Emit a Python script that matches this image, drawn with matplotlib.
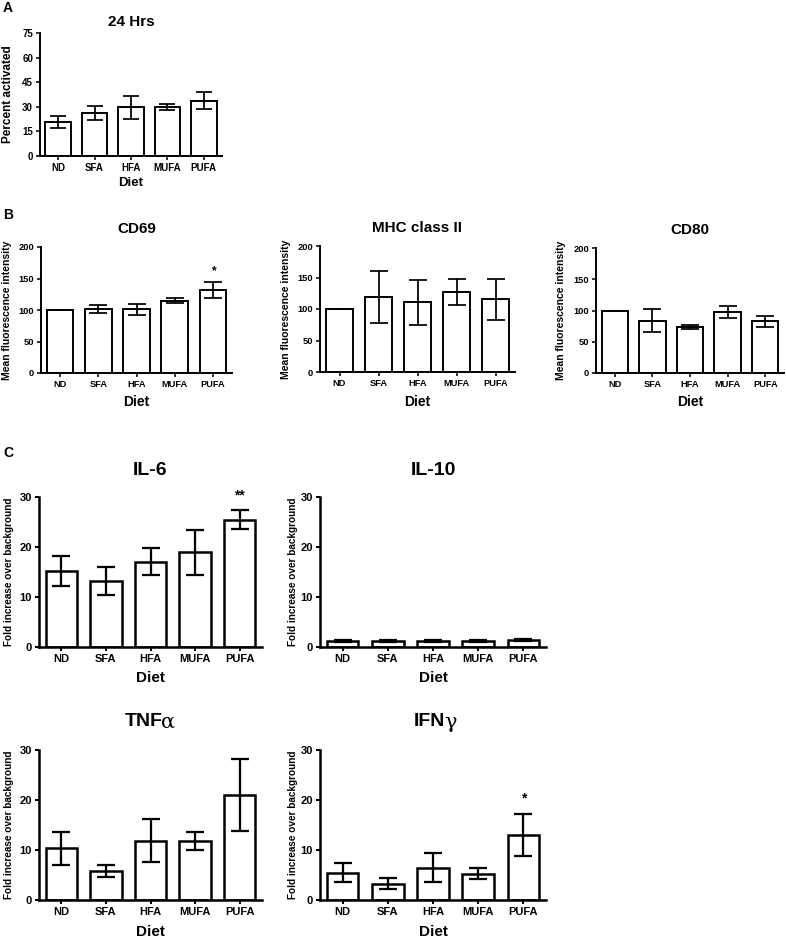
import matplotlib
matplotlib.use("Agg")
import matplotlib.pyplot as plt
import numpy as np

plt.rcParams["font.family"] = ["Liberation Sans", "DejaVu Sans"]
plt.rcParams["font.weight"] = "bold"

diets = ["ND", "SFA", "HFA", "MUFA", "PUFA"]

# Panel A: percent activated at 24 h (mean, error)
act_mean = [20.5, 26.4, 29.6, 30.0, 33.8]
act_err = [3.7, 4.3, 7.0, 1.8, 5.4]

# Panel B: mean fluorescence intensity
cd69_mean = [100, 102, 101.5, 114.7, 131.5]
cd69_err = [0, 6.6, 8.7, 3.7, 12.7]
mhc_mean = [100, 119, 110.6, 127, 115.3]
mhc_err = [0, 41.8, 35.5, 20.0, 32.8]
cd80_mean = [100, 84, 73.6, 97, 83.2]
cd80_err = [0, 18.7, 2.7, 9.6, 8.8]

# Panel C: fold increase over background
il6_mean = [15.3, 13.2, 17.1, 19.0, 25.5]
il6_err = [3.0, 2.8, 2.7, 4.5, 1.9]
il10_mean = [1.3, 1.3, 1.2, 1.3, 1.4]
il10_err = [0.2, 0.2, 0.2, 0.2, 0.25]
tnf_mean = [10.35, 5.8, 11.9, 11.9, 21.0]
tnf_err = [3.3, 1.25, 4.35, 1.8, 7.25]
ifn_mean = [5.5, 3.3, 6.5, 5.3, 13.1]
ifn_err = [1.9, 1.15, 2.9, 1.05, 4.2]

W, H = 786, 940
fig = plt.figure(figsize=(W / 100, H / 100), dpi=100)


def add_ax(l, t, r, b):
    return fig.add_axes([l / W, 1 - b / H, (r - l) / W, (b - t) / H])


def bar_panel(box, means, errs, title, ylabel, ymax, yticks, ylab_x,
              diet_top, fs, star=None, star_y=None, greek=None):
    ax = add_ax(*box)
    x = np.arange(len(diets))
    lw = fs["lw"]
    ax.bar(x, means, width=0.7, color="white", edgecolor="black",
           linewidth=lw, zorder=2)
    ax.errorbar(x, means, yerr=errs, fmt="none", ecolor="black",
                elinewidth=lw * 0.9, capsize=fs["cap"], capthick=lw * 0.9,
                zorder=3)
    ax.set_xlim(-0.5, 4.5)
    ax.set_ylim(0, ymax)
    ax.set_yticks(yticks)
    ax.set_xticks(x)
    ax.set_xticklabels(diets)
    for s in ["top", "right"]:
        ax.spines[s].set_visible(False)
    for s in ["left", "bottom"]:
        ax.spines[s].set_linewidth(lw)
    ax.tick_params(axis="both", labelsize=fs["tick"], width=lw * 0.8,
                   length=3, pad=2)
    if greek:
        # bold latin part plus a plain greek letter, like the original
        cx = ((box[0] + box[2]) / 2 + 12) / W
        ty = 1 - (box[1] - 28) / H
        fig.text(cx, ty, title, fontsize=fs["title"], fontweight="bold",
                 ha="right", va="center")
        fig.text(cx - 1 / W, ty, greek, fontsize=fs["title"] + 1,
                 fontweight="normal", family="DejaVu Serif",
                 ha="left", va="center")
    else:
        ax.set_title(title, fontsize=fs["title"], fontweight="bold",
                     pad=fs["tpad"])
    ax.set_ylabel(ylabel, fontsize=fs["ylab"], fontweight="bold")
    ax.yaxis.set_label_coords(ylab_x / W, 1 - ((box[1] + box[3]) / 2) / H,
                              transform=fig.transFigure)
    ax.set_xlabel("Diet", fontsize=fs["diet"], fontweight="bold")
    ax.xaxis.set_label_coords(((box[0] + box[2]) / 2) / W, 1 - diet_top / H,
                              transform=fig.transFigure)
    if star:
        ax.text(4, star_y, star, ha="center", va="center",
                fontsize=fs["tick"] + 2, fontweight="bold")
    return ax


fsA = dict(lw=1.4, cap=5.8, tick=7, title=11, tpad=5, ylab=8.5, diet=9.5)
fsB = dict(lw=1.4, cap=6.5, tick=6.7, title=11, tpad=10, ylab=7.5, diet=10)
fsC = dict(lw=1.8, cap=6.5, tick=8, title=14, tpad=16, ylab=7.2, diet=11)

bar_panel((40, 33, 222, 156), act_mean, act_err, "24 Hrs",
          "Percent activated", 75, [0, 15, 30, 45, 60, 75], 14, 177, fsA)

bar_panel((41, 247, 232, 373), cd69_mean, cd69_err, "CD69",
          "Mean fluorescence intensity", 200, [0, 50, 100, 150, 200], 12, 395,
          fsB, star="*", star_y=162)
bar_panel((320, 246, 515, 372), mhc_mean, mhc_err, "MHC class II",
          "Mean fluorescence intensity", 200, [0, 50, 100, 150, 200], 291, 395,
          fsB)
bar_panel((596, 248, 784, 373), cd80_mean, cd80_err, "CD80",
          "Mean fluorescence intensity", 200, [0, 50, 100, 150, 200], 566, 395,
          fsB)

bar_panel((39, 497, 262, 647), il6_mean, il6_err, "IL-6",
          "Fold increase over background", 30, [0, 10, 20, 30], 14, 671,
          fsC, star="**", star_y=30.3)
bar_panel((320, 497, 546, 647), il10_mean, il10_err, "IL-10",
          "Fold increase over background", 30, [0, 10, 20, 30], 298, 671,
          fsC)
bar_panel((39, 750, 262, 900), tnf_mean, tnf_err, "TNF",
          "Fold increase over background", 30, [0, 10, 20, 30], 14, 925,
          fsC, greek="α")
bar_panel((320, 750, 546, 900), ifn_mean, ifn_err, "IFN",
          "Fold increase over background", 30, [0, 10, 20, 30], 298, 925,
          fsC, star="*", star_y=20.4, greek="γ")

for lab, y in [("A", 8), ("B", 215), ("C", 453)]:
    fig.text(3 / W, 1 - y / H, lab, fontsize=10, fontweight="bold",
             ha="left", va="center")

fig.savefig("out.png", dpi=100)
